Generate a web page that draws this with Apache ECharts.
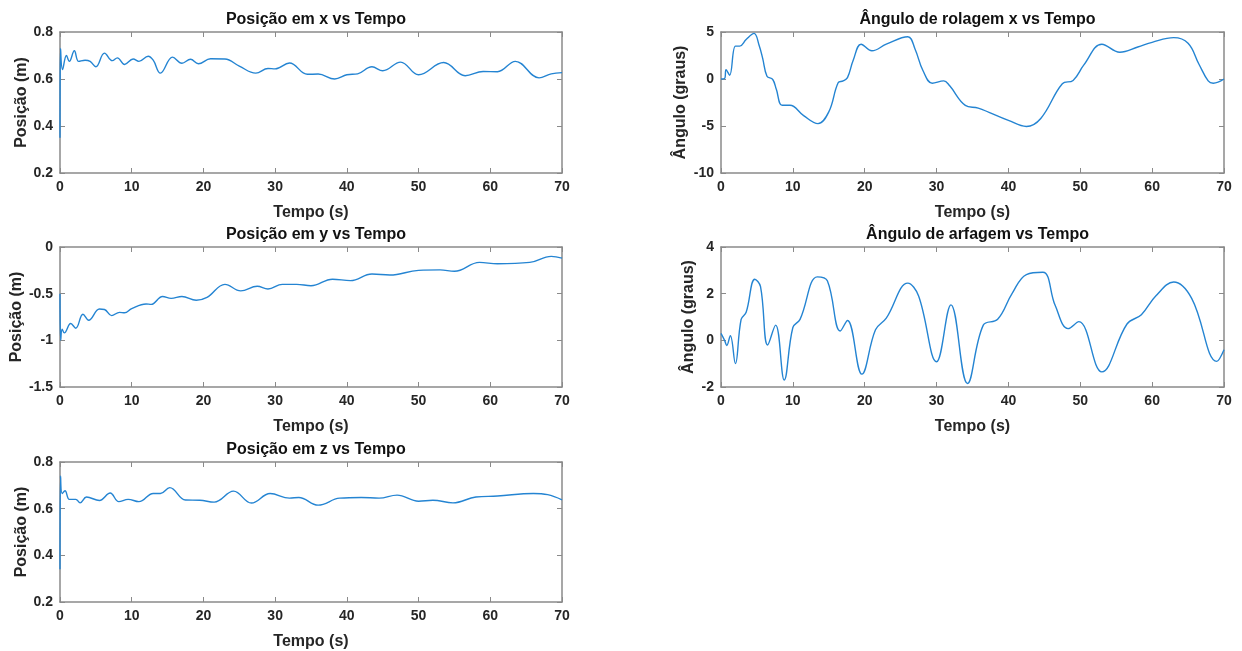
<!DOCTYPE html>
<html>
<head>
<meta charset="utf-8">
<script src="https://cdn.jsdelivr.net/npm/echarts@6/dist/echarts.min.js"></script>
<style>
  html, body { margin: 0; background: #fff; }
  #chart { width: 1242px; height: 651px; }
</style>
</head>
<body>
<div id="chart"></div>
<script>
// Posição em x
var tPosX = [0, 0.08, 0.35, 0.9, 1.3, 2.0, 2.6, 3.5, 4.2, 5.0, 6.2, 7.3, 8.0, 9.0, 10.2, 11.0, 12.3, 13.0, 14.0, 15.7, 17.0, 18.2, 19.3, 21.0, 23.0, 25.0, 27.3, 29.0, 30.0, 32.0, 34.5, 36.0, 38.3, 40.0, 41.5, 43.5, 45.0, 47.5, 50.0, 53.5, 56.5, 59.0, 61.0, 63.5, 66.8, 68.5, 70];
var posX = [0.35, 0.73, 0.64, 0.70, 0.675, 0.72, 0.675, 0.68, 0.675, 0.652, 0.71, 0.678, 0.69, 0.662, 0.685, 0.675, 0.697, 0.68, 0.625, 0.693, 0.667, 0.684, 0.665, 0.686, 0.685, 0.655, 0.625, 0.645, 0.643, 0.668, 0.62, 0.621, 0.600, 0.618, 0.622, 0.652, 0.635, 0.672, 0.618, 0.670, 0.614, 0.632, 0.631, 0.675, 0.605, 0.622, 0.627];

// Posição em y
var tPosY = [0, 0.1, 0.3, 0.6, 1.5, 2.2, 3.2, 4.0, 5.5, 6.2, 7.2, 8.3, 9.0, 10.0, 12.0, 12.7, 14.3, 15.5, 17.0, 19.0, 20.5, 23.0, 25.2, 27.5, 29.0, 31.0, 33.0, 35.0, 38.0, 40.5, 43.5, 46.0, 50.0, 53.0, 55.0, 58.5, 61.0, 65.5, 68.5, 70];
var posY = [-0.5, -1.0, -0.88, -0.92, -0.82, -0.87, -0.72, -0.785, -0.665, -0.67, -0.735, -0.70, -0.705, -0.66, -0.61, -0.615, -0.53, -0.55, -0.53, -0.57, -0.54, -0.40, -0.47, -0.42, -0.45, -0.40, -0.40, -0.415, -0.345, -0.36, -0.29, -0.30, -0.25, -0.245, -0.26, -0.165, -0.18, -0.165, -0.10, -0.12];

// Posição em z
var tPosZ = [0, 0.08, 0.3, 0.7, 1.3, 2.2, 2.8, 3.7, 5.5, 7.0, 8.2, 9.5, 11.0, 13.0, 14.0, 15.3, 17.5, 19.5, 21.5, 24.2, 26.7, 29.3, 32.0, 33.3, 36.0, 39.0, 42.0, 44.5, 47.0, 50.0, 52.0, 54.8, 58.0, 61.0, 66.0, 68.0, 70];
var posZ = [0.34, 0.74, 0.665, 0.677, 0.64, 0.64, 0.625, 0.65, 0.635, 0.667, 0.63, 0.64, 0.63, 0.665, 0.665, 0.69, 0.637, 0.636, 0.628, 0.675, 0.624, 0.665, 0.645, 0.648, 0.615, 0.645, 0.648, 0.645, 0.658, 0.632, 0.636, 0.625, 0.65, 0.654, 0.665, 0.66, 0.638];

// Ângulo de rolagem
var tRol = [0, 0.5, 0.7, 1.2, 2.0, 2.6, 3.5, 4.6, 5.3, 5.8, 6.4, 7.2, 7.7, 8.5, 9.6, 11.5, 13.5, 15.0, 16.3, 17.0, 17.6, 18.4, 19.5, 21.0, 23.0, 26.0, 27.0, 28.1, 29.4, 31.0, 31.8, 34.0, 35.8, 40.0, 42.5, 44.5, 47.5, 49.0, 50.5, 53.0, 55.5, 58.0, 60.0, 63.0, 65.0, 66.5, 67.8, 68.5, 70];
var rol = [0, 0.05, 1.0, 0.4, 3.5, 3.5, 4.2, 4.85, 3.6, 2.2, 0.3, -0.05, -1.1, -2.8, -2.8, -3.9, -4.75, -3.5, -0.4, -0.2, 0.15, 2.0, 3.7, 3.0, 3.7, 4.5, 3.2, 0.9, -0.45, -0.2, -0.7, -2.8, -3.1, -4.4, -5.05, -4.2, -0.5, -0.15, 1.5, 3.7, 2.85, 3.4, 3.9, 4.4, 3.8, 1.6, -0.2, -0.45, 0.0];

// Ângulo de arfagem
var tArf = [0, 0.5, 0.8, 1.3, 2.0, 2.8, 3.5, 4.7, 5.5, 6.5, 7.6, 8.8, 10.0, 11.0, 13.4, 14.8, 16.6, 17.6, 19.6, 21.5, 23.0, 26.0, 27.5, 30.0, 32.0, 34.3, 36.5, 38.5, 40.5, 42.5, 44.8, 46.5, 48.3, 49.8, 53.0, 56.5, 58.5, 60.5, 63.0, 65.5, 69.0, 70];
var arf = [0.3, 0.0, -0.22, 0.2, -1.0, 0.9, 1.2, 2.62, 2.3, -0.2, 0.65, -1.7, 0.55, 0.9, 2.72, 2.55, 0.4, 0.85, -1.45, 0.45, 0.95, 2.45, 1.9, -0.92, 1.52, -1.85, 0.65, 0.9, 2.0, 2.82, 2.92, 1.5, 0.5, 0.8, -1.35, 0.7, 1.1, 1.9, 2.5, 1.8, -0.9, -0.4];

var chart = echarts.init(document.getElementById('chart'));

var FONT = 'Liberation Sans, Arial, sans-serif';
var frame = '#8a8a8a';
var blue = '#2484d2';

function zip(t, v) {
  return t.map(function (x, i) { return [x, v[i]]; });
}

// um subplot estilo matlab: caixa com marcas para dentro nos 4 lados
var plots = [
  { title: 'Posição em x vs Tempo', yName: 'Posição (m)', left: 60, top: 32, width: 502, height: 141, ymin: 0.2, ymax: 0.8, step: 0.2, gap: 30, data: zip(tPosX, posX) },
  { title: 'Posição em y vs Tempo', yName: 'Posição (m)', left: 60, top: 247, width: 502, height: 140, ymin: -1.5, ymax: 0, step: 0.5, gap: 30, data: zip(tPosY, posY) },
  { title: 'Posição em z vs Tempo', yName: 'Posição (m)', left: 60, top: 462, width: 502, height: 141, ymin: 0.2, ymax: 0.8, step: 0.2, gap: 30, data: zip(tPosZ, posZ) },
  { title: 'Ângulo de rolagem x vs Tempo', yName: 'Ângulo (graus)', left: 721, top: 32, width: 503, height: 141, ymin: -10, ymax: 5, step: 5, gap: 32, data: zip(tRol, rol) },
  { title: 'Ângulo de arfagem vs Tempo', yName: 'Ângulo (graus)', left: 721, top: 247, width: 503, height: 140, ymin: -2, ymax: 4, step: 2, gap: 24, data: zip(tArf, arf) }
];

var grid = [], xAxis = [], yAxis = [], series = [], title = [];

plots.forEach(function (p, i) {
  grid.push({ left: p.left, top: p.top, width: p.width, height: p.height });
  title.push({
    text: p.title,
    left: p.left + p.width / 2,
    top: p.top - 25,
    textAlign: 'center',
    textStyle: { fontFamily: FONT, fontSize: 16, fontWeight: 'bold', color: '#111' }
  });
  var line = { show: true, onZero: false, lineStyle: { color: frame, width: 1.5 } };
  var tick = { show: true, inside: true, length: 5, lineStyle: { color: frame, width: 1 } };
  var lab = { fontFamily: FONT, fontSize: 14, fontWeight: 'bold', color: '#262626' };
  var nameStyle = { fontFamily: FONT, fontSize: 16, fontWeight: 'bold', color: '#262626' };
  xAxis.push({
    gridIndex: i, type: 'value', position: 'bottom', min: 0, max: 70, interval: 10,
    axisLine: line, axisTick: tick, splitLine: { show: false },
    axisLabel: Object.assign({ margin: 7 }, lab),
    name: 'Tempo (s)', nameLocation: 'middle', nameGap: 32, nameTextStyle: nameStyle
  });
  xAxis.push({
    gridIndex: i, type: 'value', position: 'top', min: 0, max: 70, interval: 10,
    axisLine: line, axisTick: tick, splitLine: { show: false }, axisLabel: { show: false }
  });
  yAxis.push({
    gridIndex: i, type: 'value', position: 'left', min: p.ymin, max: p.ymax, interval: p.step,
    axisLine: line, axisTick: tick, splitLine: { show: false },
    axisLabel: Object.assign({ margin: 7 }, lab),
    name: p.yName, nameLocation: 'middle', nameGap: p.gap, nameTextStyle: nameStyle
  });
  yAxis.push({
    gridIndex: i, type: 'value', position: 'right', min: p.ymin, max: p.ymax, interval: p.step,
    axisLine: line, axisTick: tick, splitLine: { show: false }, axisLabel: { show: false }
  });
  series.push({
    type: 'line', xAxisIndex: 2 * i, yAxisIndex: 2 * i,
    data: p.data, smooth: 0.4, showSymbol: false,
    lineStyle: { color: blue, width: 1.4 }
  });
});

chart.setOption({
  backgroundColor: '#fff',
  animation: false,
  title: title,
  grid: grid,
  xAxis: xAxis,
  yAxis: yAxis,
  series: series
});
</script>
</body>
</html>
